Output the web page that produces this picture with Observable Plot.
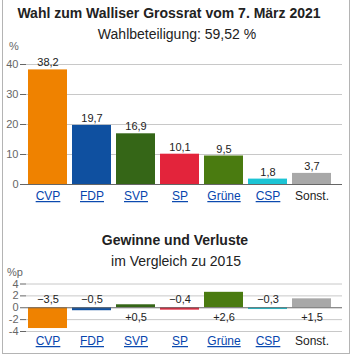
<!DOCTYPE html>
<html>
<head>
<meta charset="utf-8">
<script src="https://cdn.jsdelivr.net/npm/d3@7"></script>
<script src="https://cdn.jsdelivr.net/npm/@observablehq/plot@0.6"></script>
<style>
  html, body { margin: 0; padding: 0; background: #fff; }
  body { width: 354px; height: 358px; position: relative; overflow: hidden;
         font-family: "Liberation Sans", Arial, sans-serif; color: #222; }
  #frame { position: absolute; left: 2px; top: -1px; width: 348px; height: 355px;
           border: 1px solid #b4b4b4; box-sizing: border-box; }
  .t { position: absolute; left: 0; width: 354px; text-align: center; white-space: nowrap; }
  .unit { position: absolute; font-size: 11px; color: #666; }
  .chart { position: absolute; left: 0; }
</style>
</head>
<body>
<div id="frame"></div>
<div class="t" style="top:5px; font-size:14px; font-weight:bold; left:-8px;">Wahl zum Walliser Grossrat vom 7. März 2021</div>
<div class="t" style="top:26px; font-size:14px;">Wahlbeteiligung: 59,52 %</div>
<div class="unit" style="left:9px; top:40px;">%</div>
<div id="chartTop" class="chart" style="top:40px;"></div>
<div class="t" style="top:232px; font-size:14px; font-weight:bold; left:-2px;">Gewinne und Verluste</div>
<div class="t" style="top:253px; font-size:14px; left:-1px;">im Vergleich zu 2015</div>
<div class="unit" style="left:7px; top:266px;">%p</div>
<div id="chartBottom" class="chart" style="top:270px;"></div>
<script>
const parties = ["CVP", "FDP", "SVP", "SP", "Grüne", "CSP", "Sonst."];
const shares = [38.2, 19.7, 16.9, 10.1, 9.5, 1.8, 3.7];
const changes = [-3.5, -0.5, 0.5, -0.4, 2.6, -0.3, 1.5];
const colors = ["#ef8200", "#0f50a0", "#356617", "#e3243b", "#4a7b10", "#1cc4d4", "#a8a8a8"];
const shareTicks = [0, 10, 20, 30, 40];
const changeTicks = [-4, -2, 0, 2, 4];

const rowsTop = parties.map((p, i) => ({party: p, value: shares[i], color: colors[i]}));
const rowsBottom = parties.map((p, i) => ({party: p, value: changes[i], color: colors[i]}));

const fmt = v => v.toFixed(1).replace(".", ",");
const fmtSigned = v => (v < 0 ? "\u2212" : "+") + fmt(Math.abs(v));
const linkColor = "#0645ad";
const font = "Liberation Sans, Arial, sans-serif";

const xScale = {domain: parties, paddingInner: 1/9, paddingOuter: 1/15, align: 1/6};

function styleXLabels(svg) {
  d3.select(svg).selectAll('g[aria-label="x-axis tick label"] text').each(function() {
    const t = d3.select(this);
    if (t.text() !== "Sonst.") t.style("text-decoration", "underline");
  });
}

const plotTop = Plot.plot({
  width: 354, height: 170,
  marginLeft: 26, marginRight: 12, marginTop: 24, marginBottom: 26,
  style: {fontFamily: font, background: "transparent"},
  x: xScale,
  y: {domain: [0, 40]},
  marks: [
    Plot.gridY(shareTicks.filter(d => d !== 0), {stroke: "#c8c8c8", strokeOpacity: 1}),
    Plot.barY(rowsTop, {x: "party", y: "value", fill: "color"}),
    Plot.ruleY([0], {stroke: "#666"}),
    Plot.text(rowsTop, {x: "party", y: "value", text: d => fmt(d.value), dy: -7, fontSize: 11, fill: "#222"}),
    Plot.axisY({ticks: shareTicks, tickSize: 6, tickPadding: 2, fontSize: 11, color: "#666", label: null, tickFormat: d => String(d)}),
    Plot.axisX({tickSize: 0, tickPadding: 7, fontSize: 12, label: null, fill: d => d === "Sonst." ? "#222" : linkColor})
  ]
});
styleXLabels(plotTop);
document.getElementById("chartTop").appendChild(plotTop);

const plotBottom = Plot.plot({
  width: 354, height: 85,
  marginLeft: 26, marginRight: 12, marginTop: 13.5, marginBottom: 24,
  style: {fontFamily: font, background: "transparent"},
  x: xScale,
  y: {domain: [-4, 4]},
  marks: [
    Plot.gridY(changeTicks.filter(d => d !== 0), {stroke: "#c8c8c8", strokeOpacity: 1}),
    Plot.barY(rowsBottom, {x: "party", y: "value", fill: "color"}),
    Plot.ruleY([0], {stroke: "#666"}),
    Plot.text(rowsBottom.filter(d => d.value < 0), {x: "party", y: () => 0, text: d => fmtSigned(d.value), dy: -8, fontSize: 11, fill: "#222"}),
    Plot.text(rowsBottom.filter(d => d.value >= 0), {x: "party", y: () => 0, text: d => fmtSigned(d.value), dy: 10, fontSize: 11, fill: "#222"}),
    Plot.axisY({ticks: changeTicks, tickSize: 6, tickPadding: 2, fontSize: 11, color: "#666", label: null, tickFormat: d => String(d)}),
    Plot.axisX({tickSize: 0, tickPadding: 5, fontSize: 12, label: null, fill: d => d === "Sonst." ? "#222" : linkColor})
  ]
});
styleXLabels(plotBottom);
document.getElementById("chartBottom").appendChild(plotBottom);
</script>
</body>
</html>
